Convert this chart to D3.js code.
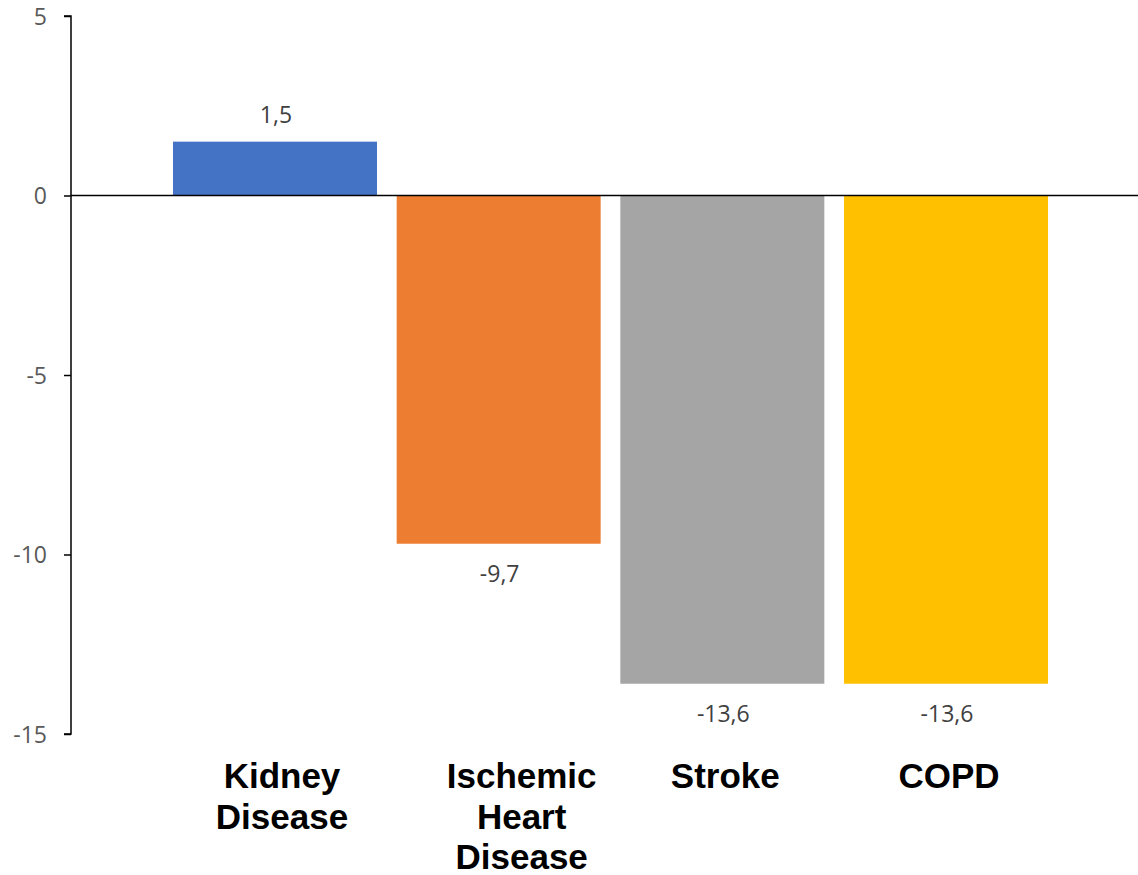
<!DOCTYPE html>
<html><head><meta charset="utf-8">
<script src="https://cdn.jsdelivr.net/npm/d3@7/dist/d3.min.js"></script>
<style>body{margin:0;background:#fff}svg{display:block}</style>
</head><body>
<svg id="c" width="1138" height="875"></svg>
<script>
const categories = [["Kidney","Disease"],["Ischemic","Heart","Disease"],["Stroke"],["COPD"]];
const categoryKeys = ["Kidney Disease","Ischemic Heart Disease","Stroke","COPD"];
const values = [1.5, -9.7, -13.6, -13.6];
const valueLabels = ["1,5","-9,7","-13,6","-13,6"];
const colors = ["#4472C4","#ED7D31","#A5A5A5","#FFC000"];
const yTicks = [5,0,-5,-10,-15];

const svg = d3.select("#c");
const y = d3.scaleLinear().domain([-15,5]).range([734,16]);
const x = d3.scaleBand().domain(categoryKeys).range([153.3,1067.7]).paddingInner(0.088).paddingOuter(0.088);
const axisX = 71;

// bars
svg.selectAll("rect.bar").data(values).join("rect")
  .attr("x",(d,i)=>x(categoryKeys[i]))
  .attr("width",x.bandwidth())
  .attr("y",d=>y(Math.max(0,d)))
  .attr("height",d=>Math.abs(y(d)-y(0)))
  .attr("fill",(d,i)=>colors[i]);

// y axis
const yAxis = d3.axisLeft(y).tickValues(yTicks).tickSize(7).tickPadding(17).tickFormat(d=>d);
const g = svg.append("g").attr("transform",`translate(${axisX},0)`).call(yAxis);
g.select(".domain").attr("stroke","#000").attr("stroke-width",1.5).attr("d",`M-7,${y(5)}H0V${y(-15)}H-7`);
g.selectAll(".tick line").attr("stroke","#000").attr("stroke-width",1.5);
g.selectAll(".tick text").attr("fill","#595959").style("font-family","'Open Sans',sans-serif").style("font-size","23px").attr("dy","0.35em");

// zero line
svg.append("line").attr("x1",axisX).attr("x2",1138).attr("y1",y(0)).attr("y2",y(0))
  .attr("stroke","#000").attr("stroke-width",1.5);

// value labels
svg.selectAll("text.val").data(values).join("text")
  .attr("x",(d,i)=>x(categoryKeys[i])+x.bandwidth()/2+1)
  .attr("y",d=>d>=0 ? y(d)-19 : y(d)+38)
  .attr("text-anchor","middle")
  .attr("fill","#404040")
  .style("font-family","'Open Sans',sans-serif").style("font-size","23px")
  .text((d,i)=>valueLabels[i]);

// category labels
const offs = [7,23,3,3];
categories.forEach((lines,i)=>{
  const cx = x(categoryKeys[i])+x.bandwidth()/2+offs[i];
  const t = svg.append("text")
    .attr("x",cx)
    .attr("y",788)
    .attr("text-anchor","middle")
    .style("font-family","'Liberation Sans',Arial,sans-serif")
    .style("font-weight","bold").style("font-size","35px").attr("fill","#000");
  lines.forEach((l,j)=>{
    t.append("tspan").attr("x",cx).attr("dy",j===0?0:40.5).text(l);
  });
});
</script>
</body></html>
